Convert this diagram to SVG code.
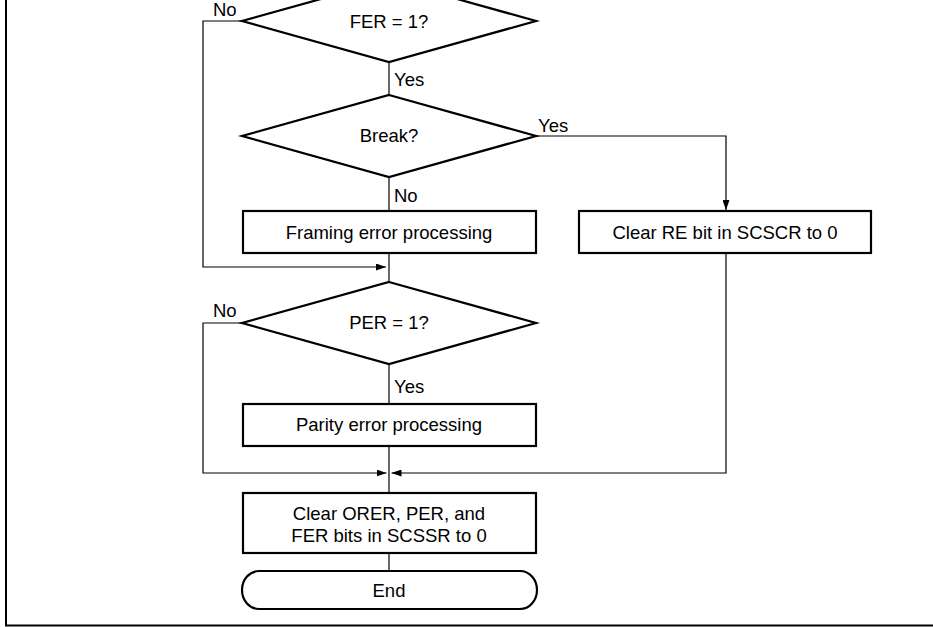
<svg xmlns="http://www.w3.org/2000/svg" width="933" height="627" viewBox="0 0 933 627">
  <defs>
    <marker id="arrow" markerUnits="userSpaceOnUse" markerWidth="10" markerHeight="7" refX="10" refY="3.5" orient="auto">
      <path d="M0,0 L10,3.5 L0,7 Z" fill="#000"/>
    </marker>
    <style>
      .shape { fill: #fff; stroke: #000; stroke-width: 2.2; }
      .conn { fill: none; stroke: #000; stroke-width: 1.2; }
      .frame { fill: none; stroke: #000; stroke-width: 2; }
      text { font-family: "Liberation Sans", Arial, sans-serif; font-size: 18.5px; fill: #000; }
      .c { text-anchor: middle; }
    </style>
  </defs>

  <!-- page frame -->
  <path class="frame" d="M6,0 V625.5 H933"/>

  <!-- connectors -->
  <g id="connectors">
    <path class="conn" d="M389,62 V95"/>
    <path class="conn" d="M389,177 V211"/>
    <path class="conn" d="M536,136 H726 V210" marker-end="url(#arrow)"/>
    <path class="conn" d="M242,21 H203 V267 H386" marker-end="url(#arrow)"/>
    <path class="conn" d="M389,253 V282"/>
    <path class="conn" d="M389,364 V404"/>
    <path class="conn" d="M242,323 H203 V473 H386.5" marker-end="url(#arrow)"/>
    <path class="conn" d="M726,253 V473 H391.5" marker-end="url(#arrow)"/>
    <path class="conn" d="M389,446 V493"/>
    <path class="conn" d="M389,553 V571"/>
    <text x="213" y="16">No</text>
    <text x="394" y="86">Yes</text>
    <text x="538" y="132">Yes</text>
    <text x="394" y="202">No</text>
    <text x="213" y="317">No</text>
    <text x="394" y="393">Yes</text>
  </g>

  <g id="fer-check">
    <polygon class="shape" points="389,-20 536,21 389,62 242,21"/>
    <text class="c" x="389" y="28">FER = 1?</text>
  </g>

  <g id="break-check">
    <polygon class="shape" points="389,95 536,136 389,177 242,136"/>
    <text class="c" x="389" y="142">Break?</text>
  </g>

  <g id="framing-error">
    <rect class="shape" x="243" y="211" width="293" height="42"/>
    <text class="c" x="389" y="239">Framing error processing</text>
  </g>

  <g id="clear-re">
    <rect class="shape" x="579" y="211" width="292" height="42"/>
    <text class="c" x="725" y="239">Clear RE bit in SCSCR to 0</text>
  </g>

  <g id="per-check">
    <polygon class="shape" points="389,282 536,323 389,364 242,323"/>
    <text class="c" x="389" y="329">PER = 1?</text>
  </g>

  <g id="parity-error">
    <rect class="shape" x="243" y="404" width="293" height="42"/>
    <text class="c" x="389" y="431">Parity error processing</text>
  </g>

  <g id="clear-flags">
    <rect class="shape" x="243" y="493" width="293" height="60"/>
    <text class="c" x="389" y="520">Clear ORER, PER, and</text>
    <text class="c" x="389" y="542">FER bits in SCSSR to 0</text>
  </g>

  <g id="end">
    <rect class="shape" x="242" y="571" width="295" height="38" rx="17" ry="19"/>
    <text class="c" x="389" y="597">End</text>
  </g>
</svg>
